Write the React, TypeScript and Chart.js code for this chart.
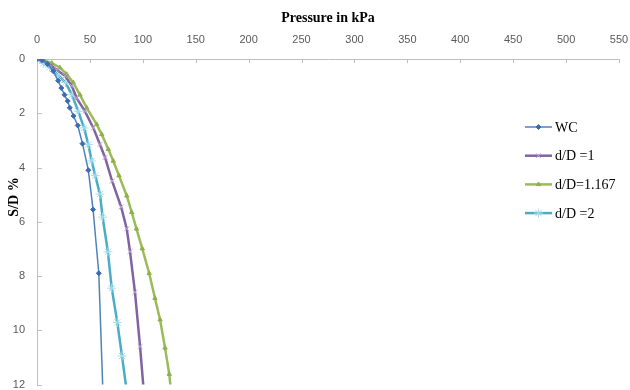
import React, { useEffect, useRef } from 'react';
import { Chart, registerables } from 'chart.js';
import { drawPoint } from 'chart.js/helpers';

Chart.register(...registerables);

// Series names
const seriesNames = ['WC', 'd/D =1', 'd/D=1.167', 'd/D =2'];

// WC
const wcPressure = [0, 5, 10, 15.4, 20, 23, 26, 29, 31, 34.5, 38.5, 43, 48.5, 53, 58.4, 62.4];
const wcSettlement = [0, 0.05, 0.18, 0.45, 0.8, 1.07, 1.32, 1.55, 1.8, 2.1, 2.45, 3.12, 4.1, 5.55, 7.9, 12.4];

// d/D = 1
const d1Pressure = [0, 5, 12, 18.6, 26.5, 32.8, 37.5, 45.4, 53.2, 59.5, 64.3, 71, 79.5, 84.8, 87.9, 92.6, 97.4, 101];
const d1Settlement = [0, 0.05, 0.2, 0.4, 0.62, 0.99, 1.44, 1.93, 2.54, 3.15, 3.63, 4.5, 5.45, 6.26, 7.1, 8.6, 10.6, 12.3];

// d/D = 1.167
const d1167Pressure = [0, 6, 14, 21.7, 28, 34.3, 40.6, 47, 56.4, 61.2, 67.4, 72.1, 77.5, 84.8, 89.5, 94, 99.5, 106, 111.5, 116.3, 121, 125, 126.8];
const d1167Settlement = [0, 0.04, 0.15, 0.32, 0.56, 0.87, 1.32, 1.8, 2.41, 2.78, 3.33, 3.76, 4.3, 5.04, 5.65, 6.26, 6.99, 7.9, 8.82, 9.61, 10.65, 11.62, 12.3];

// d/D = 2
const d2Pressure = [0, 6, 12, 20, 27, 33, 39, 44.5, 48.5, 51.7, 55, 59.5, 62, 67, 70.6, 75.9, 80.3, 85];
const d2Settlement = [0, 0.16, 0.3, 0.6, 0.87, 1.32, 1.93, 2.54, 3.15, 3.76, 4.3, 4.98, 5.83, 7.11, 8.45, 9.71, 10.95, 12.3];

// Axis ticks
const xMin = 0;
const xMax = 550;
const xStep = 50;
const yMin = 0;
const yMax = 12;
const yStep = 2;

const xTitle = 'Pressure in kPa';
const yTitle = 'S/D %';

const toPoints = (xs: number[], ys: number[]) => xs.map((v, i) => ({ x: v, y: ys[i] }));

const axisTicksPlugin = {
  id: 'axisTicks',
  beforeDatasetsDraw(chart: any) {
    const { ctx, chartArea, scales } = chart;
    const x = scales.x;
    const y = scales.y;
    ctx.save();
    ctx.strokeStyle = '#bfbfbf';
    ctx.lineWidth = 1;
    x.ticks.forEach((t: any) => {
      const px = Math.round(x.getPixelForValue(t.value)) + 0.5;
      ctx.beginPath();
      ctx.moveTo(px, chartArea.top);
      ctx.lineTo(px, chartArea.top + 4);
      ctx.stroke();
    });
    y.ticks.forEach((t: any) => {
      const py = Math.round(y.getPixelForValue(t.value)) + 0.5;
      ctx.beginPath();
      ctx.moveTo(chartArea.left, py);
      ctx.lineTo(chartArea.left + 5, py);
      ctx.stroke();
    });
    ctx.restore();
  },
};

const yTitlePlugin = {
  id: 'yTitleDraw',
  afterDraw(chart: any) {
    const { ctx } = chart;
    ctx.save();
    ctx.translate(14, 197);
    ctx.rotate(-Math.PI / 2);
    ctx.font = 'bold 14px "Liberation Serif"';
    ctx.fillStyle = '#000';
    ctx.textAlign = 'center';
    ctx.textBaseline = 'middle';
    ctx.fillText(yTitle, 0, 0);
    ctx.restore();
  },
};

const legendPlugin = {
  id: 'customLegend',
  afterDraw(chart: any) {
    const { ctx } = chart;
    ctx.save();
    chart.data.datasets.forEach((ds: any, i: number) => {
      const yy = 127 + i * 28.7;
      ctx.strokeStyle = ds.borderColor;
      ctx.lineWidth = ds.borderWidth;
      ctx.beginPath();
      ctx.moveTo(525, yy);
      ctx.lineTo(552, yy);
      ctx.stroke();
      ctx.fillStyle = ds.pointBackgroundColor;
      ctx.strokeStyle = ds.pointBorderColor;
      ctx.lineWidth = ds.pointBorderWidth;
      drawPoint(ctx, { pointStyle: ds.pointStyle, radius: ds.pointRadius, rotation: 0, borderWidth: ds.pointBorderWidth }, 538.5, yy);
      ctx.fillStyle = '#000';
      ctx.font = '14px "Liberation Serif"';
      ctx.textAlign = 'left';
      ctx.textBaseline = 'middle';
      ctx.fillText(ds.label, 555, yy + 1);
    });
    ctx.restore();
  },
};

export default function App() {
  const ref = useRef<HTMLCanvasElement>(null);

  useEffect(() => {
    document.body.style.margin = '0';
    const canvas = ref.current;
    if (!canvas) return;
    const chart = new Chart(canvas, {
      type: 'scatter',
      data: {
        datasets: [
          {
            label: seriesNames[0],
            data: toPoints(wcPressure, wcSettlement),
            showLine: true,
            borderColor: '#4f81bd',
            borderWidth: 1.5,
            pointStyle: 'rectRot',
            pointRadius: 2.5,
            pointBackgroundColor: '#3a6cb0',
            pointBorderColor: '#3a6cb0',
            pointBorderWidth: 1,
            tension: 0,
          },
          {
            label: seriesNames[1],
            data: toPoints(d1Pressure, d1Settlement),
            showLine: true,
            borderColor: '#8064a2',
            borderWidth: 2.5,
            pointStyle: 'crossRot',
            pointRadius: 3.5,
            pointBackgroundColor: '#b9a6d2',
            pointBorderColor: '#b9a6d2',
            pointBorderWidth: 1,
            tension: 0,
          },
          {
            label: seriesNames[2],
            data: toPoints(d1167Pressure, d1167Settlement),
            showLine: true,
            borderColor: '#9bbb59',
            borderWidth: 2.5,
            pointStyle: 'triangle',
            pointRadius: 2.5,
            pointBackgroundColor: '#8fb049',
            pointBorderColor: '#8fb049',
            pointBorderWidth: 1,
            tension: 0,
          },
          {
            label: seriesNames[3],
            data: toPoints(d2Pressure, d2Settlement),
            showLine: true,
            borderColor: '#4bacc6',
            borderWidth: 2.5,
            pointStyle: 'star',
            pointRadius: 4.5,
            pointBackgroundColor: '#a5dcea',
            pointBorderColor: '#a5dcea',
            pointBorderWidth: 1,
            tension: 0,
          },
        ],
      },
      options: {
        animation: false,
        responsive: false,
        maintainAspectRatio: false,
        devicePixelRatio: 1,
        layout: { padding: { left: 0, top: 0, right: 11, bottom: 3 } },
        plugins: {
          legend: { display: false },
          tooltip: { enabled: false },
        },
        scales: {
          x: {
            type: 'linear',
            position: 'top',
            min: xMin,
            max: xMax,
            ticks: {
              stepSize: xStep,
              color: '#595959',
              font: { family: 'Liberation Sans', size: 11 },
              padding: 12,
            },
            grid: { display: false, drawTicks: false },
            border: { display: true, color: '#bfbfbf', width: 1 },
            title: {
              display: true,
              text: xTitle,
              color: '#000',
              font: { family: 'Liberation Serif', size: 14, weight: 'bold' },
              padding: { top: 10, bottom: 0 },
            },
            afterFit: (s: any) => {
              s.height = 59;
              s.paddingLeft = 0;
              s.paddingRight = 0;
            },
          },
          y: {
            type: 'linear',
            reverse: true,
            min: yMin,
            max: yMax,
            ticks: {
              stepSize: yStep,
              color: '#595959',
              font: { family: 'Liberation Sans', size: 11 },
              padding: 12,
            },
            grid: { display: false, drawTicks: false },
            border: { display: true, color: '#bfbfbf', width: 1 },
            afterFit: (s: any) => {
              s.width = 37;
              s.paddingTop = 0;
              s.paddingBottom = 0;
            },
          },
        },
      } as any,
      plugins: [axisTicksPlugin, yTitlePlugin, legendPlugin],
    });
    return () => chart.destroy();
  }, []);

  return <canvas ref={ref} width={630} height={390} style={{ display: 'block', width: 630, height: 390 }} />;
}
